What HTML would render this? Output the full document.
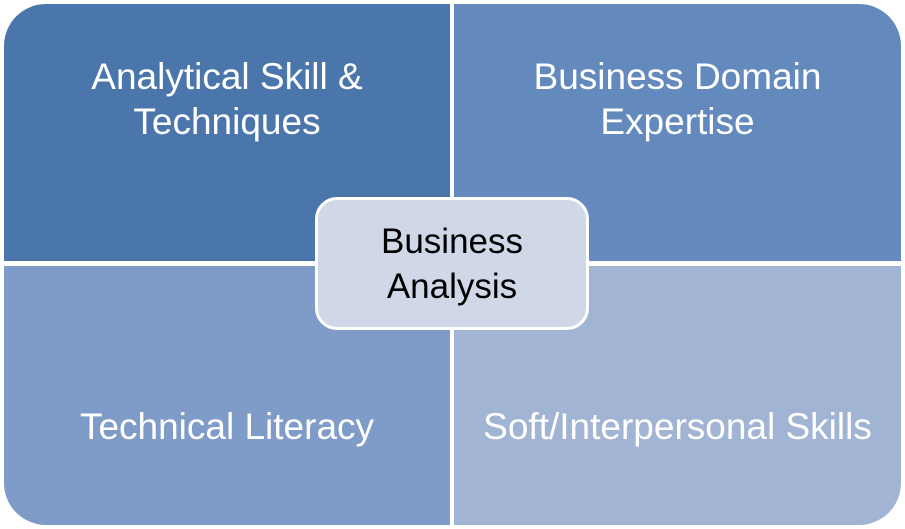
<!DOCTYPE html>
<html><head><style>
body{margin:0;width:905px;height:529px;background:#fff;position:relative;overflow:hidden;font-family:"Liberation Sans",sans-serif;}
.q{position:absolute;color:#fff;font-size:37px;line-height:45px;text-align:center;display:flex;align-items:center;justify-content:center;}
</style></head><body>
<div class="q" style="left:4px;top:4px;width:446px;height:257px;background:#4a76ab;border-top-left-radius:42px;align-items:flex-start;"><div style="margin-top:50px">Analytical Skill &amp;<br>Techniques</div></div>
<div class="q" style="left:454px;top:4px;width:447px;height:257px;background:#6389bd;border-top-right-radius:42px;align-items:flex-start;"><div style="margin-top:50px">Business Domain<br>Expertise</div></div>
<div class="q" style="left:4px;top:266px;width:446px;height:259px;background:#7f9bc7;border-bottom-left-radius:42px;align-items:flex-start;"><div style="margin-top:138px">Technical Literacy</div></div>
<div class="q" style="left:454px;top:266px;width:447px;height:259px;background:#a2b4d4;border-bottom-right-radius:42px;align-items:flex-start;"><div style="margin-top:138px;white-space:nowrap">Soft/Interpersonal Skills</div></div>
<div class="q" style="left:315px;top:197px;width:268px;height:127px;background:#d0d8e8;border:3px solid #fff;border-radius:22px;color:#000;font-size:35px;">Business<br>Analysis</div>
</body></html>
